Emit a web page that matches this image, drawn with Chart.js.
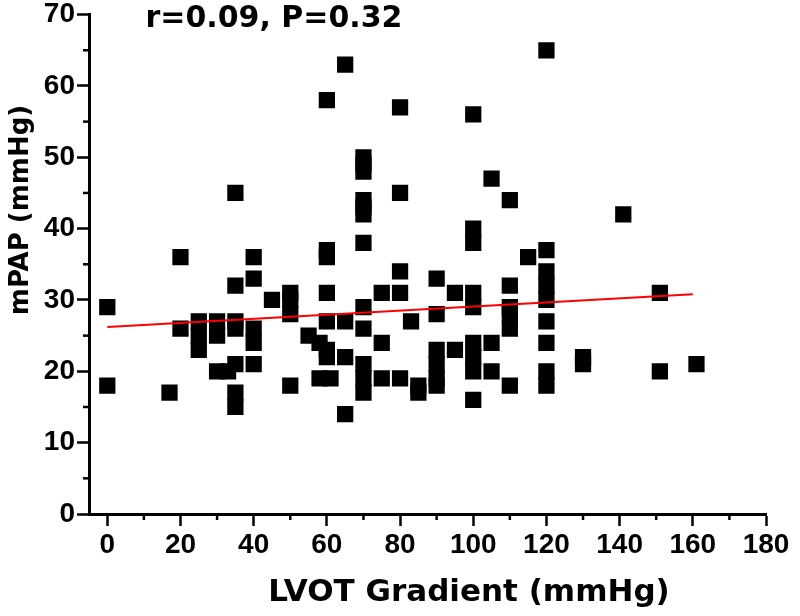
<!DOCTYPE html>
<html>
<head>
<meta charset="utf-8">
<script src="https://cdn.jsdelivr.net/npm/chart.js@4.4.1/dist/chart.umd.min.js"></script>
<style>
  html, body { margin: 0; padding: 0; background: #fff; }
  #wrap { width: 800px; height: 616px; }
</style>
</head>
<body>
<div id="wrap"><canvas id="c" width="800" height="616"></canvas></div>
<script>
// ---- data ----
const gradientGroups = [0, 17, 20, 25, 30, 33, 35, 40, 45, 50, 55, 58, 60, 61, 65, 70, 75, 80, 83, 85, 90, 95, 100, 105, 110, 115, 120, 130, 141, 151, 161];
const mpapGroups = [
  [29, 18],
  [17],
  [36, 26],
  [27, 25, 23],
  [27, 25, 20],
  [20],
  [45, 32, 27, 26, 21, 17, 15],
  [36, 33, 26, 24, 21],
  [30],
  [31, 30, 28, 18],
  [25],
  [24, 19],
  [58, 37, 36, 31, 27, 23, 22],
  [19],
  [63, 27, 22, 14],
  [50, 49, 48, 44, 43, 42, 38, 29, 26, 21, 19, 17],
  [31, 24, 19],
  [57, 45, 34, 31, 19],
  [27],
  [18, 17],
  [33, 28, 23, 21, 19, 18],
  [31, 23],
  [56, 40, 38, 31, 29, 24, 22, 20, 16],
  [47, 24, 20],
  [44, 32, 29, 28, 26, 18],
  [36],
  [65, 37, 34, 32, 30, 27, 24, 20, 18],
  [22, 21],
  [42],
  [31, 20],
  [21]
];
const fitX = [0, 160];
const fitY = [26.2, 30.8];
const xTicks = [0, 20, 40, 60, 80, 100, 120, 140, 160, 180];
const yTicks = [0, 10, 20, 30, 40, 50, 60, 70];
const statText = 'r=0.09, P=0.32';
const xTitle = 'LVOT Gradient (mmHg)';
const yTitle = 'mPAP (mmHg)';

const points = [];
gradientGroups.forEach((g, i) => mpapGroups[i].forEach(v => points.push({ x: g, y: v })));
const fitLine = fitX.map((x, i) => ({ x: x, y: fitY[i] }));

const FONT = "'DejaVu Sans', sans-serif";
const TICKFONT = "'Liberation Sans', Arial, sans-serif";

const extras = {
  id: 'extras',
  afterDraw(chart) {
    const ctx = chart.ctx;
    const xs = chart.scales.x, ys = chart.scales.y;
    ctx.save();
    // minor ticks
    ctx.strokeStyle = '#000';
    ctx.lineWidth = 2.5;
    for (let v = 5; v < 70; v += 10) {
      const py = ys.getPixelForValue(v);
      ctx.beginPath(); ctx.moveTo(xs.left - 6, py); ctx.lineTo(xs.left, py); ctx.stroke();
    }
    for (let v = 10; v < 180; v += 20) {
      const px = xs.getPixelForValue(v);
      ctx.beginPath(); ctx.moveTo(px, ys.bottom); ctx.lineTo(px, ys.bottom + 6); ctx.stroke();
    }
    // texts
    ctx.fillStyle = '#000';
    ctx.textAlign = 'center';
    ctx.textBaseline = 'alphabetic';
    ctx.font = 'bold 30px ' + FONT;
    ctx.fillText(statText, 274, 27);
    ctx.font = 'bold 31px ' + FONT;
    ctx.fillText(xTitle, 469, 601);
    ctx.textBaseline = 'middle';
    ctx.translate(21, 210);
    ctx.rotate(-Math.PI / 2);
    ctx.font = 'bold 26px ' + FONT;
    ctx.fillText(yTitle, 0, 0);
    ctx.restore();
  }
};

new Chart(document.getElementById('c'), {
  type: 'scatter',
  data: {
    datasets: [
      {
        label: 'patients',
        data: points,
        pointStyle: 'rect',
        pointRadius: 11.5,
        pointHoverRadius: 11.5,
        backgroundColor: '#000',
        borderColor: '#000',
        borderWidth: 0,
        order: 2
      },
      {
        type: 'line',
        label: 'fit',
        data: fitLine,
        borderColor: '#ff0000',
        borderWidth: 2,
        pointRadius: 0,
        fill: false,
        order: 1
      }
    ]
  },
  options: {
    responsive: false,
    animation: false,
    layout: { padding: { top: 13, right: 34, left: 0, bottom: 0 } },
    plugins: { legend: { display: false }, tooltip: { enabled: false }, title: { display: false } },
    scales: {
      x: {
        type: 'linear',
        min: -5,
        max: 180,
        afterBuildTicks: s => { s.ticks = xTicks.map(v => ({ value: v })); },
        afterFit: s => { s.height = 102; },
        border: { display: true, color: '#000', width: 3 },
        grid: { drawOnChartArea: false, color: '#000', tickColor: '#000', tickLength: 12, tickWidth: 2.5 },
        ticks: { color: '#000', padding: 7, maxRotation: 0, autoSkip: false, font: { family: TICKFONT, size: 28, weight: 'bold', lineHeight: 0.9 } }
      },
      y: {
        type: 'linear',
        min: 0,
        max: 70,
        afterBuildTicks: s => { s.ticks = yTicks.map(v => ({ value: v })); },
        afterFit: s => { s.width = 89; },
        border: { display: true, color: '#000', width: 3 },
        grid: { drawOnChartArea: false, color: '#000', tickColor: '#000', tickLength: 12, tickWidth: 2.5 },
        ticks: { color: '#000', padding: 2, autoSkip: false, font: { family: TICKFONT, size: 28, weight: 'bold', lineHeight: 0.9 } }
      }
    }
  },
  plugins: [extras]
});
</script>
</body>
</html>
